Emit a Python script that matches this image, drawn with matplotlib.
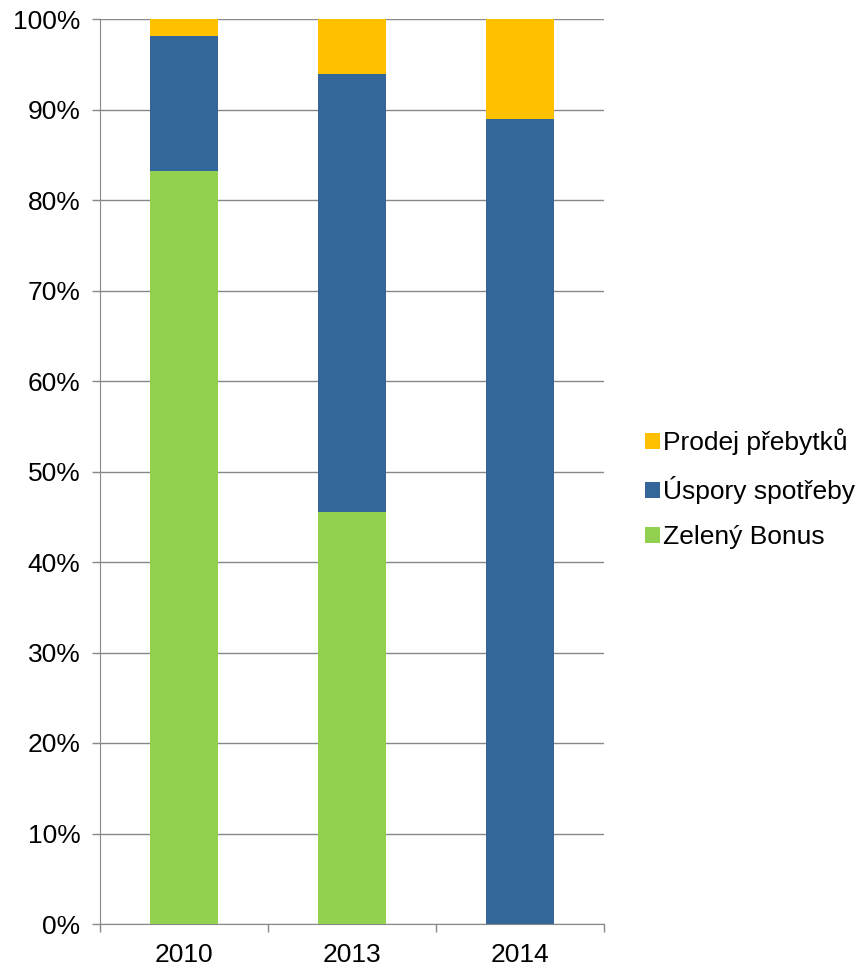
import matplotlib
matplotlib.use("Agg")
import matplotlib.pyplot as plt
from matplotlib.ticker import FixedLocator, PercentFormatter

years = ["2010", "2013", "2014"]
zeleny_bonus = [83.2, 45.5, 0.0]
uspory_spotreby = [14.9, 48.4, 88.9]
prodej_prebytku = [1.9, 6.1, 11.1]

plt.rcParams['font.family'] = ['Liberation Sans', 'DejaVu Sans']

fig = plt.figure(figsize=(8.63, 9.68), dpi=100)
ax = fig.add_axes([100 / 863, 1 - 924 / 968, 504 / 863, 905 / 968])

x = list(range(len(years)))
w = 0.4
bottom2 = zeleny_bonus
bottom3 = [a + b for a, b in zip(zeleny_bonus, uspory_spotreby)]

b1 = ax.bar(x, zeleny_bonus, w, color="#92d050", label="Zelený Bonus", zorder=3)
b2 = ax.bar(x, uspory_spotreby, w, bottom=bottom2, color="#336699", label="Úspory spotřeby", zorder=3)
b3 = ax.bar(x, prodej_prebytku, w, bottom=bottom3, color="#ffc000", label="Prodej přebytků", zorder=3)

ax.set_xlim(-0.5, 2.5)
ax.set_ylim(0, 100)
ax.set_yticks(range(0, 101, 10))
ax.yaxis.set_major_formatter(PercentFormatter(decimals=0))
ax.set_xticks(x)
ax.set_xticklabels(years)
ax.xaxis.set_minor_locator(FixedLocator([-0.5, 0.5, 1.5, 2.5]))
ax.tick_params(axis="x", which="major", length=0, labelsize=19, pad=14)
ax.tick_params(axis="x", which="minor", length=6, color="#888888", width=1)
ax.tick_params(axis="y", length=6, color="#888888", width=1, labelsize=19, pad=8)

ax.grid(axis="y", color="#888888", linewidth=1, zorder=0)
for s in ["top", "right"]:
    ax.spines[s].set_visible(False)
ax.spines["left"].set_color("#888888")
ax.spines["bottom"].set_color("#888888")

leg = ax.legend(handles=[b3, b2, b1], loc="center left",
                bbox_to_anchor=((645 - 100) / 504, (924 - 489) / 905),
                frameon=False, fontsize=19, handlelength=0.58, handleheight=0.58,
                handletextpad=0.12, labelspacing=0.8, borderaxespad=0, borderpad=0)

fig.savefig("out.png", dpi=100)
